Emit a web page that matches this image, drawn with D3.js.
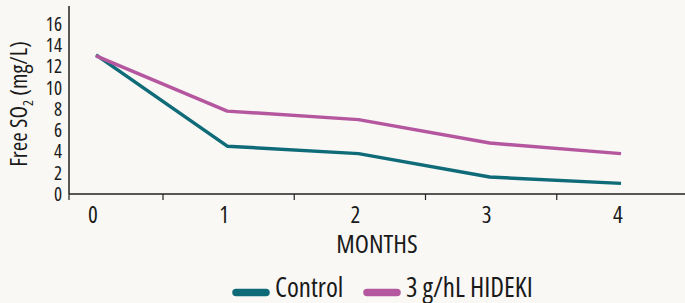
<!DOCTYPE html>
<html>
<head>
<meta charset="utf-8">
<script src="https://cdn.jsdelivr.net/npm/d3@7"></script>
<style>
  html, body { margin: 0; padding: 0; background: #f9f8f5; }
  svg text { font-family: "Open Sans", "Liberation Sans Narrow", sans-serif; font-stretch: condensed; fill: #1a1a1a; }
</style>
</head>
<body>
<div id="chart"></div>
<script>
// data
var months = [0, 1, 2, 3, 4];
var control = [13.1, 4.5, 3.8, 1.6, 1.0];
var hideki = [13.0, 7.8, 7.0, 4.8, 3.8];
var yTicks = [0, 2, 4, 6, 8, 10, 12, 14, 16];
var seriesNames = ["Control", "3 g/hL HIDEKI"];
var seriesColors = ["#0f6b78", "#b5579f"];

var width = 685, height = 303;

var svg = d3.select("#chart").append("svg")
    .attr("width", width)
    .attr("height", height);

svg.append("rect").attr("width", width).attr("height", height).attr("fill", "#f9f8f5");

var x = d3.scaleLinear().domain([0, 4]).range([96, 621]);
var y = d3.scaleLinear().domain([0, 16]).range([194, 24]);

// y axis: line + labels, no tick marks
svg.append("line")
    .attr("x1", 69).attr("x2", 69)
    .attr("y1", 6).attr("y2", 194)
    .attr("stroke", "#222").attr("stroke-width", 1.5);

svg.append("g").selectAll("text")
    .data(yTicks)
    .join("text")
    .attr("x", 62)
    .attr("y", function(d) { return y(d); })
    .attr("dy", "0.36em")
    .attr("text-anchor", "end")
    .style("font-size", "19px")
    .text(function(d) { return d; });

// x axis line and tick marks (ticks sit between months)
svg.append("line")
    .attr("x1", 69).attr("x2", width)
    .attr("y1", 194).attr("y2", 194)
    .attr("stroke", "#222").attr("stroke-width", 1.5);

var tickPos = [69].concat(months.slice(0, 4).map(function(m) { return x(m) + 67; }));
svg.append("g").selectAll("line")
    .data(tickPos)
    .join("line")
    .attr("x1", function(d) { return d; })
    .attr("x2", function(d) { return d; })
    .attr("y1", 194).attr("y2", 200)
    .attr("stroke", "#222").attr("stroke-width", 1.2);

svg.append("g").selectAll("text")
    .data(months)
    .join("text")
    .attr("x", function(d) { return x(d) - 3; })
    .attr("y", 223)
    .attr("text-anchor", "middle")
    .style("font-size", "23px")
    .text(function(d) { return d; });

svg.append("text")
    .attr("x", 377).attr("y", 253)
    .attr("text-anchor", "middle")
    .style("font-size", "26px")
    .text("MONTHS");

// y axis title
var yt = svg.append("text")
    .attr("transform", "translate(27,104) rotate(-90)")
    .attr("text-anchor", "middle")
    .style("font-size", "23px");
yt.append("tspan").text("Free SO");
yt.append("tspan").attr("dy", 6).style("font-size", "14px").text("2");
yt.append("tspan").attr("dy", -6).text(" (mg/L)");

// lines
var line = d3.line()
    .x(function(d, i) { return x(months[i]); })
    .y(function(d) { return y(d); });

[control, hideki].forEach(function(s, i) {
    svg.append("path")
        .datum(s)
        .attr("fill", "none")
        .attr("stroke", seriesColors[i])
        .attr("stroke-width", 3.5)
        .attr("stroke-linejoin", "round")
        .attr("d", line);
});

// legend
var legX = [232, 363];
seriesNames.forEach(function(name, i) {
    svg.append("line")
        .attr("x1", legX[i] + 4).attr("x2", legX[i] + 34)
        .attr("y1", 292.5).attr("y2", 292.5)
        .attr("stroke", seriesColors[i])
        .attr("stroke-width", 7.5)
        .attr("stroke-linecap", "round");
    svg.append("text")
        .attr("x", legX[i] + 43).attr("y", 297)
        .style("font-size", "27px")
        .text(name);
});
</script>
</body>
</html>
